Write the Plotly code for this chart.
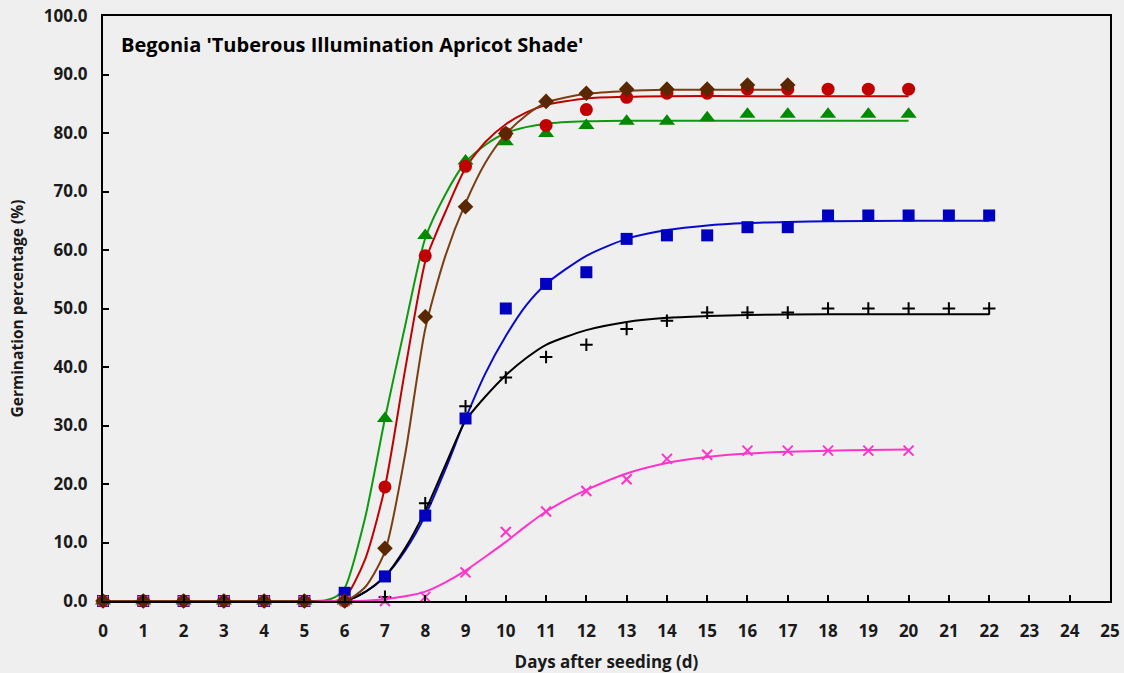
import plotly.graph_objects as go

# Observed germination (%) per day after seeding
days_green = list(range(0, 21))
green_obs = [0, 0, 0, 0, 0, 0, 0, 31.2, 62.5, 75.2, 78.5, 79.9, 81.3, 82.0, 82.0, 82.6, 83.2, 83.2, 83.2, 83.2, 83.2]

days_red = list(range(0, 21))
red_obs = [0, 0, 0, 0, 0, 0, 0, 19.5, 59.0, 74.3, 79.9, 81.3, 84.0, 86.1, 86.8, 86.8, 87.5, 87.5, 87.5, 87.5, 87.5]

days_brown = list(range(0, 18))
brown_obs = [0, 0, 0, 0, 0, 0, 0, 9.0, 48.6, 67.4, 79.9, 85.4, 86.8, 87.5, 87.5, 87.5, 88.2, 88.2]

days_blue = list(range(0, 23))
blue_obs = [0, 0, 0, 0, 0, 0, 1.4, 4.2, 14.6, 31.2, 50.0, 54.2, 56.2, 61.9, 62.5, 62.5, 63.9, 63.9,
            65.9, 65.9, 65.9, 65.9, 65.9]

days_black = list(range(0, 23))
black_obs = [0, 0, 0, 0, 0, 0, 0, 0.7, 16.7, 33.3, 38.2, 41.7, 43.8, 46.5, 47.9, 49.3, 49.3, 49.3,
             50.0, 50.0, 50.0, 50.0, 50.0]

days_pink = list(range(0, 21))
pink_obs = [0, 0, 0, 0, 0, 0, 0, 0, 0.7, 4.9, 11.8, 15.3, 18.8, 20.8, 24.3, 25.0, 25.7, 25.7, 25.7, 25.7, 25.7]

# Fitted cumulative germination curves
green_fit_x = [0, 5, 5.5, 5.75, 6, 6.5, 7, 7.5, 8, 8.5, 9, 9.5, 10, 10.5, 11, 12, 13, 14, 16, 18, 20]
green_fit_y = [0, 0, 0.1, 0.6, 2.2, 14.0, 31.2, 47.0, 62.0, 69.5, 75.0, 78.0, 80.0, 81.0, 81.6, 82.0, 82.1, 82.1, 82.1, 82.1, 82.1]

red_fit_x = [0, 5, 5.75, 6, 6.5, 7, 7.5, 8, 8.25, 8.5, 9, 9.5, 10, 10.5, 11, 12, 13, 14, 16, 18, 20]
red_fit_y = [0, 0, 0, 0.5, 7.0, 19.5, 39.5, 58.0, 62.5, 66.5, 74.0, 78.5, 81.5, 83.5, 84.8, 85.9, 86.2, 86.3, 86.3, 86.3, 86.3]

brown_fit_x = [0, 5, 6, 6.5, 7, 7.5, 8, 8.5, 9, 9.5, 10, 10.5, 11, 12, 13, 14, 15, 17]
brown_fit_y = [0, 0, 0, 2.3, 8.5, 25.0, 46.5, 59.0, 68.0, 75.0, 79.8, 83.0, 85.2, 86.7, 87.2, 87.4, 87.4, 87.4]

blue_fit_x = [0, 5, 6, 6.5, 7, 7.5, 8, 8.5, 9, 9.5, 10, 10.5, 11, 12, 13, 14, 15, 16, 17, 18, 20, 22]
blue_fit_y = [0, 0, 0, 1.5, 4.2, 8.6, 14.6, 22.5, 31.2, 39.0, 45.3, 50.5, 54.2, 59.0, 61.9, 63.4, 64.2, 64.6, 64.8, 64.9, 65.0, 65.0]

black_fit_x = [0, 5, 6, 6.5, 7, 7.5, 8, 8.5, 9, 9.5, 10, 10.5, 11, 12, 13, 14, 15, 16, 18, 20, 22]
black_fit_y = [0, 0, 0, 1.5, 4.2, 9.0, 15.4, 23.2, 30.8, 35.0, 38.6, 41.5, 43.8, 46.3, 47.7, 48.4, 48.7, 48.9, 49.0, 49.0, 49.0]

pink_fit_x = [0, 6, 6.5, 7, 7.5, 8, 8.5, 9, 9.5, 10, 10.5, 11, 11.5, 12, 13, 14, 15, 16, 17, 18, 19, 20]
pink_fit_y = [0, 0, 0.05, 0.3, 0.8, 1.6, 3.2, 5.2, 7.6, 10.1, 12.8, 15.3, 17.3, 19.0, 21.8, 23.6, 24.6, 25.2, 25.5, 25.7, 25.8, 25.9]

x_ticks = list(range(0, 26))
y_ticks = [i * 10 for i in range(11)]

BG = "#EFEFEF"
FONT = "Open Sans"
TXT = "#1A1A1A"

series = [
    # name, x_obs, y_obs, x_fit, y_fit, line colour, marker colour, symbol, size, marker line width
    ("Blue", days_blue, blue_obs, blue_fit_x, blue_fit_y, "#0A0ACD", "#0000C0", "square", 12, 0),
    ("Green", days_green, green_obs, green_fit_x, green_fit_y, "#0E9A0E", "#008A00", "triangle-up", 14, 0),
    ("Red", days_red, red_obs, red_fit_x, red_fit_y, "#C00000", "#C00000", "circle", 13, 0),
    ("Black", days_black, black_obs, black_fit_x, black_fit_y, "#000000", "#000000", "cross-thin", 9, 2),
    ("Pink", days_pink, pink_obs, pink_fit_x, pink_fit_y, "#FF33CC", "#FF33CC", "x-thin", 10, 2),
    ("Brown", days_brown, brown_obs, brown_fit_x, brown_fit_y, "#7A3E12", "#5A2800", "diamond", 12, 0),
]

fig = go.Figure()

for name, xo, yo, xf, yf, lc, mc, sym, size, mlw in series:
    fig.add_trace(go.Scatter(
        x=xf, y=yf, mode="lines", name=name + " fit",
        line=dict(color=lc, width=2, shape="spline", smoothing=0.7),
        cliponaxis=False, showlegend=False, hoverinfo="skip",
    ))

for name, xo, yo, xf, yf, lc, mc, sym, size, mlw in series:
    if mlw:
        marker = dict(symbol=sym, size=size, color=mc, line=dict(color=mc, width=mlw))
    else:
        marker = dict(symbol=sym, size=size, color=mc, line=dict(width=0))
    fig.add_trace(go.Scatter(
        x=xo, y=yo, mode="markers", name=name, marker=marker,
        cliponaxis=False, showlegend=False,
    ))

fig.add_annotation(
    text="<b>Begonia 'Tuberous Illumination Apricot Shade'</b>",
    xref="paper", yref="paper", x=0.016, y=0.952, xanchor="left", yanchor="middle",
    showarrow=False, font=dict(family=FONT, size=20, color="#000000"),
)

fig.update_layout(
    width=1124, height=673,
    margin=dict(l=103, r=14, t=16, b=72),
    paper_bgcolor=BG, plot_bgcolor=BG,
    font=dict(family=FONT, color=TXT),
    showlegend=False,
)

fig.update_xaxes(
    range=[0, 25], tickvals=x_ticks, ticktext=[str(v) for v in x_ticks],
    ticks="inside", ticklen=6, tickwidth=1.5, tickcolor="#000000",
    showline=True, linecolor="#000000", linewidth=2, mirror=True,
    showgrid=False, zeroline=False, automargin=False,
    tickfont=dict(family=FONT, size=17, color=TXT, weight="bold"),
    ticklabelstandoff=14,
    title=dict(text="<b>Days after seeding (d)</b>", font=dict(family=FONT, size=17, color=TXT), standoff=20),
)

fig.update_yaxes(
    range=[0, 100], tickvals=y_ticks, ticktext=[f"{v:.1f}" for v in y_ticks],
    ticks="inside", ticklen=6, tickwidth=1.5, tickcolor="#000000",
    showline=True, linecolor="#000000", linewidth=2, mirror=True,
    showgrid=False, zeroline=False, automargin=False,
    tickfont=dict(family=FONT, size=17, color=TXT, weight="bold"),
    ticklabelstandoff=10,
    title=dict(text="<b>Germination percentage (%)</b>", font=dict(family=FONT, size=15.5, color=TXT), standoff=16),
)

fig.write_html("out.html")
